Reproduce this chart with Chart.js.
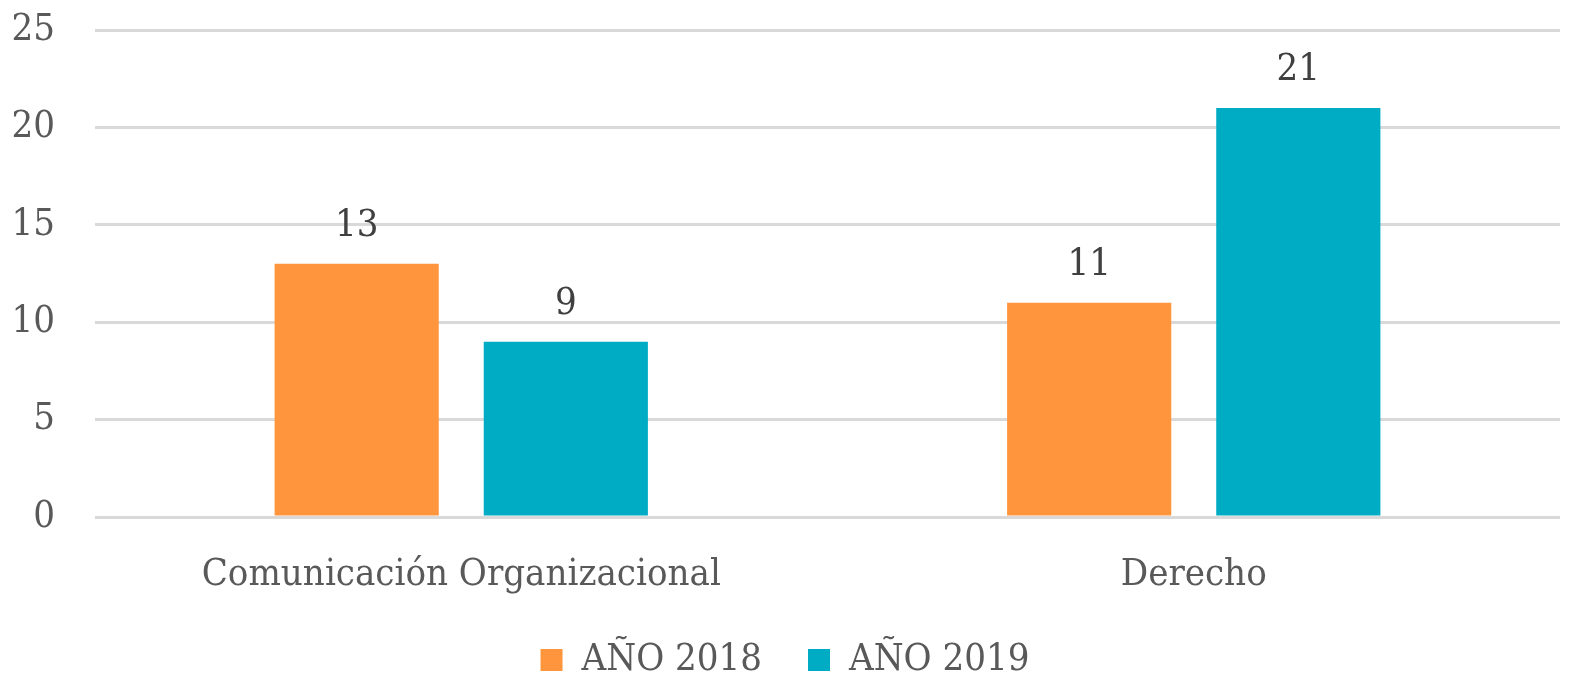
<!DOCTYPE html>
<html>
<head>
<meta charset="utf-8">
<script src="https://cdn.jsdelivr.net/npm/chart.js@4"></script>
<style>
  html, body { margin: 0; padding: 0; background: #fff; }
  #wrap { width: 1571px; height: 677px; }
</style>
</head>
<body>
<div id="wrap"><canvas id="carreras"></canvas></div>
<script>
const categories = ["Comunicación Organizacional", "Derecho"];
const seriesNames = ["AÑO 2018", "AÑO 2019"];
const values2018 = [13, 11];
const values2019 = [9, 21];
const yTicks = [0, 5, 10, 15, 20, 25];

const FONT = "'DejaVu Serif Condensed', 'DejaVu Serif', serif";
const SIZE = 38;
const TEXT = "#595959";

// writes each bar's value just above it
const valueLabels = {
  id: "valueLabels",
  afterDatasetsDraw(chart) {
    const ctx = chart.ctx;
    ctx.save();
    ctx.font = SIZE + "px " + FONT;
    ctx.fillStyle = "#404040";
    ctx.textAlign = "center";
    ctx.textBaseline = "alphabetic";
    chart.data.datasets.forEach((ds, i) => {
      chart.getDatasetMeta(i).data.forEach((bar, j) => {
        ctx.fillText(ds.data[j], bar.x, bar.y - 28);
      });
    });
    ctx.restore();
  },
};

const ctx = document.getElementById("carreras").getContext("2d");
const chart = new Chart(ctx, {
  type: "bar",
  plugins: [valueLabels],
  data: {
    labels: categories,
    datasets: [
      {
        label: seriesNames[0],
        data: values2018,
        backgroundColor: "#ff963e",
      },
      {
        label: seriesNames[1],
        data: values2019,
        backgroundColor: "#00acc4",
      },
    ],
  },
  options: {
    responsive: true,
    maintainAspectRatio: false,
    animation: false,
    categoryPercentage: 0.571,
    barPercentage: 0.785,
    layout: {
      padding: { top: 0, right: 11, left: 10, bottom: -12 },
    },
    plugins: {
      legend: {
        position: "bottom",
        labels: {
          font: { family: FONT, size: SIZE },
          color: TEXT,
          boxWidth: 22,
          boxHeight: 22,
          padding: 46,
        },
      },
      tooltip: { enabled: false },
    },
    scales: {
      x: {
        grid: { display: false },
        border: { display: false },
        afterFit(axis) {
          axis.height = 78;
        },
        ticks: {
          font: { family: FONT, size: SIZE },
          color: TEXT,
          padding: 27,
        },
      },
      y: {
        min: 0,
        max: 25,
        afterBuildTicks(axis) {
          axis.ticks = yTicks.map((v) => ({ value: v }));
        },
        afterFit(axis) {
          axis.width = 85;
          axis.paddingTop = 30;
        },
        grid: { color: "#d9d9d9", lineWidth: 3, drawTicks: false },
        border: { display: false },
        ticks: {
          font: { family: FONT, size: SIZE },
          color: TEXT,
          padding: 40,
        },
      },
    },
  },
});
</script>
</body>
</html>
